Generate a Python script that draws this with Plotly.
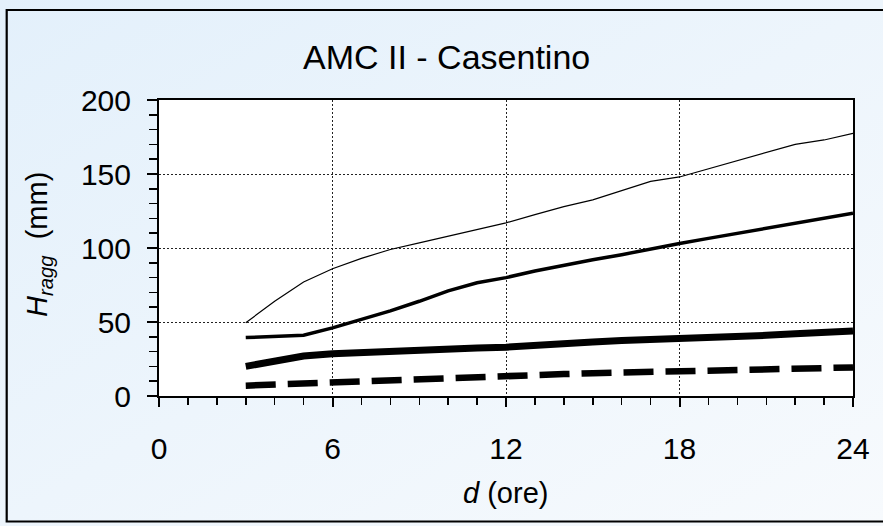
import base64
import plotly.graph_objects as go

# ---- data ----
durata_ore = [3, 4, 5, 6, 7, 8, 9, 10, 11, 12, 13, 14, 15, 16, 17, 18, 19, 20, 21, 22, 23, 24]

h_sottile = [49.5, 64, 77, 86, 93, 99, 103.5, 108, 112.5, 117, 122.5, 128, 132.5, 139,
             145, 148, 153.5, 159, 164.5, 170, 173, 177.5]
h_medio = [39.5, 40.5, 41, 46, 51.5, 57.5, 64, 71, 76.5, 80, 84.5, 88.5, 92, 95.5,
           99.5, 103, 106.5, 110, 113.5, 117, 120, 123.5]
h_spesso = [20, 23.5, 27, 28.5, 29.5, 30.5, 30.5, 31.5, 32.5, 33, 34.5, 35.5, 36.5, 37.5,
            38, 38.7, 39.5, 40.5, 41, 42, 43, 44]
h_tratteggio = [7, 7.8, 8.7, 9.4, 10, 10.7, 11.4, 12.2, 12.9, 13.6, 14.2, 14.8, 15.4, 15.8,
                16.1, 16.4, 17, 17.6, 18.2, 18.7, 19, 19.3]

x_ticks = [0, 6, 12, 18, 24]
y_ticks = [0, 50, 100, 150, 200]

titolo = "AMC II - Casentino"
x_titolo = "<i>d</i> (ore)"
y_titolo = "<i>H</i><sub><i>ragg</i></sub>  (mm)"

# ---- layout geometry ----
W, H = 883, 526
L, R, T, B = 159, 30, 100, 130
PW, PH = W - L - R, H - T - B
FONT = "Liberation Sans, Arial, sans-serif"

fig = go.Figure()
fig.add_trace(go.Scatter(x=durata_ore, y=h_sottile, mode="lines",
                         line=dict(color="black", width=1.2), showlegend=False))
fig.add_trace(go.Scatter(x=durata_ore, y=h_medio, mode="lines",
                         line=dict(color="black", width=3.5), showlegend=False))
fig.add_trace(go.Scatter(x=durata_ore, y=h_spesso, mode="lines",
                         line=dict(color="black", width=7), showlegend=False))
fig.add_trace(go.Scatter(x=durata_ore, y=h_tratteggio, mode="lines",
                         line=dict(color="black", width=6.5, dash="30px,12px"), showlegend=False))

# background gradient + white plot area as an inline SVG image
svg = (
    f'<svg xmlns="http://www.w3.org/2000/svg" width="{W}" height="{H}" '
    f'viewBox="0 0 {W} {H}" preserveAspectRatio="none">'
    '<defs><linearGradient id="g" x1="0" y1="0" x2="1" y2="1">'
    '<stop offset="0" stop-color="#e3f0fb"/><stop offset="1" stop-color="#f7fafd"/>'
    '</linearGradient></defs>'
    f'<rect width="{W}" height="{H}" fill="url(#g)"/>'
    f'<rect x="{L}" y="{T}" width="{PW}" height="{PH}" fill="#ffffff"/>'
    '</svg>'
)
src = "data:image/svg+xml;base64," + base64.b64encode(svg.encode()).decode()
fig.add_layout_image(dict(source=src, xref="paper", yref="paper",
                          x=-L / PW, y=1 + T / PH, sizex=W / PW, sizey=H / PH,
                          xanchor="left", yanchor="top", sizing="stretch", layer="below"))


def px_to_paper_x(px):
    return (px - L) / PW


def px_to_paper_y(py):
    return (H - B - py) / PH


# outer black frame
fig.add_shape(type="rect", xref="paper", yref="paper",
              x0=px_to_paper_x(6.7), x1=px_to_paper_x(886),
              y0=px_to_paper_y(521.5), y1=px_to_paper_y(10),
              line=dict(color="black", width=2.2), fillcolor="rgba(0,0,0,0)", layer="above")

axis_common = dict(
    showline=True, linecolor="black", linewidth=2, mirror=True,
    showgrid=True, gridcolor="#222222", gridwidth=1, griddash="2px,2px",
    zeroline=False, ticks="outside", tickcolor="black", tickwidth=2,
    tickfont=dict(family=FONT, size=30, color="black"),
)

fig.update_xaxes(range=[0, 24], tickvals=x_ticks, ticklen=9, ticklabelstandoff=16,
                 minor=dict(dtick=1, tick0=0, ticks="outside", ticklen=7, tickwidth=1.5,
                            tickcolor="black", showgrid=False),
                 **axis_common)
fig.update_yaxes(range=[0, 200], tickvals=y_ticks, ticklen=10, ticklabelstandoff=10,
                 minor=dict(dtick=10, tick0=0, ticks="outside", ticklen=8, tickwidth=1.5,
                            tickcolor="black", showgrid=False),
                 **axis_common)

fig.add_annotation(text=titolo, xref="paper", yref="paper",
                   x=px_to_paper_x(446.7), y=px_to_paper_y(57), showarrow=False,
                   xanchor="center", yanchor="middle",
                   font=dict(family=FONT, size=34, color="black"))
fig.add_annotation(text=x_titolo, xref="paper", yref="paper",
                   x=px_to_paper_x(505), y=px_to_paper_y(493), showarrow=False,
                   xanchor="center", yanchor="middle",
                   font=dict(family=FONT, size=29, color="black"))
fig.add_annotation(text=y_titolo, xref="paper", yref="paper", textangle=-90,
                   x=px_to_paper_x(39), y=px_to_paper_y(245), showarrow=False,
                   xanchor="center", yanchor="middle",
                   font=dict(family=FONT, size=29, color="black"))

fig.update_layout(
    width=W, height=H,
    margin=dict(l=L, r=R, t=T, b=B, autoexpand=False),
    paper_bgcolor="white", plot_bgcolor="rgba(0,0,0,0)",
    showlegend=False,
)

fig.write_html("out.html",
               config={"displayModeBar": False, "staticPlot": True},
               post_script="document.body.style.margin='0';document.body.style.overflow='hidden';")
